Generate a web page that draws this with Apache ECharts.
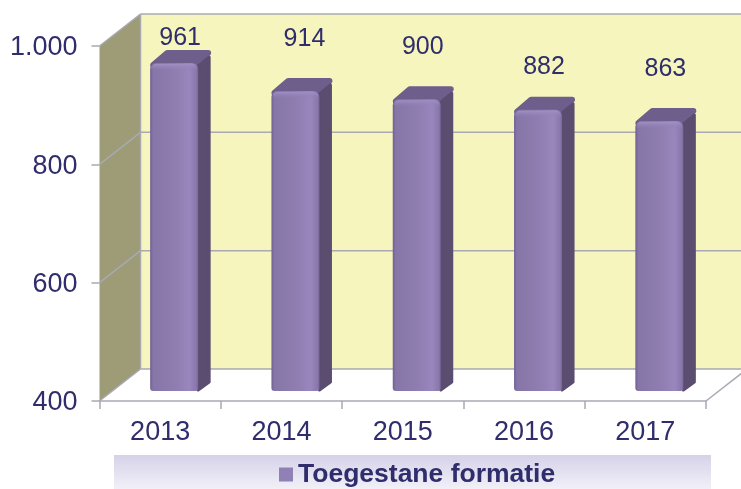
<!DOCTYPE html>
<html>
<head>
<meta charset="utf-8">
<style>html,body{margin:0;padding:0;background:#fff}#c{width:741px;height:489px}</style>
<script src="https://cdn.jsdelivr.net/npm/echarts@6/dist/echarts.min.js"></script>
</head>
<body>
<div id="c"></div>
<script>
const categories = ['2013', '2014', '2015', '2016', '2017'];
const values = [961, 914, 900, 882, 863];
const seriesName = 'Toegestane formatie';
const yMin = 400, yMax = 1000, yStep = 200;
const labelLift = [12, 39, 39, 30, 39];

const TEXT = '#2f2d6b', LINE = '#a9a9b4';
const WALL = [41, -32];   // depth of the box
const chart = echarts.init(document.getElementById('c'), null, {renderer: 'canvas'});

function renderWalls(params, api) {
  const cs = params.coordSys;
  const yOf = v => api.coord([0, v])[1];
  const L = cs.x, R = cs.x + cs.width, T = yOf(yMax), B = yOf(yMin);
  const dx = WALL[0], dy = WALL[1];
  const ln = (x1, y1, x2, y2) => ({type: 'line', shape: {x1, y1, x2, y2}, style: {stroke: LINE, lineWidth: 1.5}});
  const ch = [
    {type: 'rect', shape: {x: L + dx, y: T + dy, width: cs.width, height: B - T}, style: {fill: '#f5f5bd'}},
    {type: 'polygon', shape: {points: [[L, T], [L + dx, T + dy], [L + dx, B + dy], [L, B]]}, style: {fill: '#9d9c76'}},
    ln(L + dx, T + dy, L + dx, B + dy),
    ln(L, T, L + dx, T + dy),
    ln(L + dx, T + dy, R + dx, T + dy),
    ln(L, B, L + dx, B + dy),
    ln(L + dx, B + dy, R + dx, B + dy),
    ln(R, B, R + dx, B + dy)
  ];
  for (let v = yMin + yStep; v < yMax; v += yStep) {
    const y = yOf(v);
    ch.push(ln(L, y, L + dx, y + dy), ln(L + dx, y + dy, R + dx, y + dy));
  }
  return {type: 'group', children: ch};
}

function renderBar(params, api) {
  const i = params.dataIndex;
  const c = api.coord([api.value(0), api.value(1)]);
  const base = api.coord([api.value(0), yMin]);
  const x0 = c[0] - 10, x1 = x0 + 48, dx = 13, dy = -13;
  const top = c[1] - 6, bot = base[1] - 10;
  const face = new echarts.graphic.LinearGradient(0, 0, 1, 0, [
    {offset: 0, color: '#6f5f93'}, {offset: 0.06, color: '#8675a7'}, {offset: 0.5, color: '#8f7db0'},
    {offset: 0.82, color: '#9886bd'}, {offset: 0.96, color: '#8a78ab'}, {offset: 1, color: '#75659a'}
  ]);
  const cap = new echarts.graphic.LinearGradient(0, 0, 0, 1, [
    {offset: 0, color: '#a08fc4'}, {offset: 1, color: 'rgba(143,125,176,0)'}
  ]);
  const round = (fill, w) => ({fill, stroke: fill, lineWidth: w, lineJoin: 'round'});
  return {type: 'group', children: [
    {type: 'polygon', shape: {points: [[x0 + 3, top + 2], [x0 + dx + 4, top + dy + 3], [x1 + dx - 3, top + dy + 3], [x1 - 1, top + 2]]}, style: round('#6e5e8b', 6)},
    {type: 'polygon', shape: {points: [[x1, top + 3], [x1 + dx - 2, top + dy + 7], [x1 + dx - 2, bot - 11 + 2], [x1, bot - 1]]}, style: round('#5a4d70', 3)},
    {type: 'rect', shape: {x: x0, y: top, width: 48, height: bot - top, r: [6, 6, 3, 3]}, style: {fill: face}},
    {type: 'rect', shape: {x: x0 + 1, y: top + 1, width: 46, height: 7, r: [5, 5, 0, 0]}, style: {fill: cap}},
    {type: 'text', style: {
      x: x0 + 30 + (i === 1 ? 3 : 0), y: top + dy - labelLift[i], text: String(values[i]),
      fill: TEXT, font: '25px "Liberation Sans", Arial, sans-serif',
      align: 'center', verticalAlign: 'middle'
    }}
  ]};
}

chart.setOption({
  animation: false,
  textStyle: {fontFamily: '"Liberation Sans", Arial, sans-serif'},
  grid: {left: 99.5, right: 35, top: 46, bottom: 88, containLabel: false},
  graphic: [{
    type: 'rect', z: -1, silent: true,
    shape: {x: 114, y: 455, width: 597, height: 34},
    style: {fill: new echarts.graphic.LinearGradient(0, 0, 0, 1, [
      {offset: 0, color: '#d5d2e8'}, {offset: 1, color: '#f1f0f8'}
    ])}
  }],
  legend: {
    data: [seriesName], left: 279, top: 461, itemWidth: 14, itemHeight: 14, itemGap: 5,
    padding: 0, icon: 'rect',
    textStyle: {color: TEXT, fontWeight: 'bold', fontSize: 26.5, padding: [4, 0, 0, 0], fontFamily: '"Liberation Sans", Arial, sans-serif'}
  },
  xAxis: {
    type: 'category', data: categories, boundaryGap: true,
    axisLine: {lineStyle: {color: LINE, width: 1.5}},
    axisTick: {show: true, length: 8, alignWithLabel: false, lineStyle: {color: LINE, width: 1.5}},
    axisLabel: {color: TEXT, fontSize: 27, margin: 18}
  },
  yAxis: {
    type: 'value', min: yMin, max: yMax, interval: yStep,
    splitLine: {show: false},
    axisLine: {show: false},
    axisTick: {show: true, length: 8, lineStyle: {color: LINE, width: 1.5}},
    axisLabel: {color: TEXT, fontSize: 27, margin: 22, verticalAlign: 'top', lineHeight: 4,
      formatter: v => v >= 1000 ? String(v).replace(/(\d)(\d{3})$/, '$1.$2') : String(v)}
  },
  series: [
    {type: 'custom', name: 'walls', z: 0, silent: true, clip: false, renderItem: renderWalls, data: [[0, yMin]], legendHoverLink: false, tooltip: {show: false}},
    {type: 'custom', name: seriesName, z: 3, clip: false, renderItem: renderBar,
      itemStyle: {color: '#9080b5'},
      encode: {x: 0, y: 1},
      data: categories.map((c, i) => [i, values[i]])}
  ]
});
</script>
</body>
</html>
